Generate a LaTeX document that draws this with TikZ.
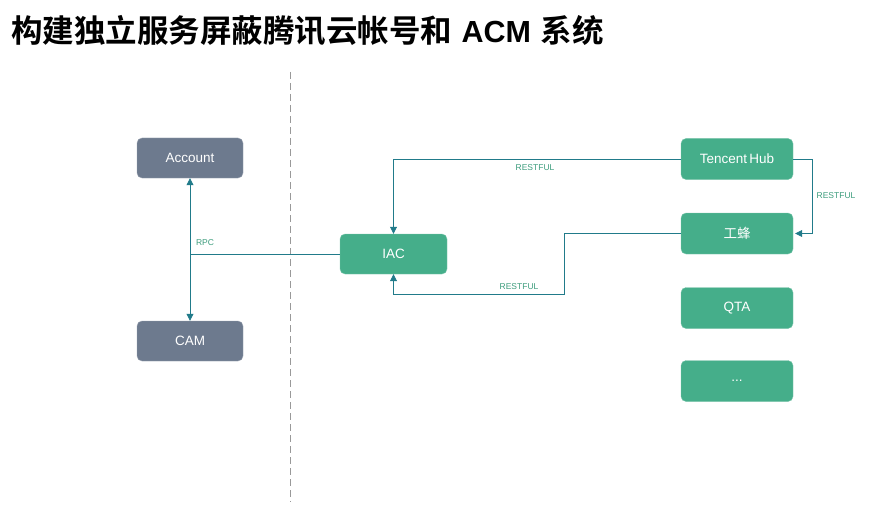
\documentclass[tikz,border=0pt]{standalone}
\usepackage{fontspec}
\setmainfont{Liberation Sans}
\newfontfamily\cjk{Noto Sans CJK SC}
\newfontfamily\cjkbold{Noto Sans CJK SC Bold}
\usetikzlibrary{arrows.meta}
\definecolor{boxgreen}{HTML}{45AE8A}
\definecolor{boxgray}{HTML}{6D7A8E}
\definecolor{linecol}{HTML}{217B8A}
\definecolor{lblcol}{HTML}{3C9C7C}
\tikzset{
  gbox/.style={draw=boxgreen!70!white, fill=boxgreen, rounded corners=5pt, minimum width=112pt, minimum height=41pt, text=white, font=\fontsize{13.5}{13.5}\selectfont, inner sep=0pt},
  graybox/.style={draw=boxgray!70!white, fill=boxgray, rounded corners=5pt, minimum width=106pt, minimum height=40pt, text=white, font=\fontsize{13.5}{13.5}\selectfont, inner sep=0pt},
  conn/.style={draw=linecol, line width=0.8pt, -{Triangle[length=7pt,width=7pt]}},
  lbl/.style={text=lblcol, font=\fontsize{8.5}{8.5}\selectfont, inner sep=0pt}
}
\begin{document}
\begin{tikzpicture}[x=1pt,y=-1pt]
\useasboundingbox (0,0) rectangle (877,513);
\node[anchor=west, font=\cjkbold\fontsize{31.5}{31.5}\selectfont, inner sep=0pt] (title) at (11,31) {构建独立服务屏蔽腾讯云帐号和\hspace{0.3em}{\bfseries\fontsize{30.5}{30.5}\selectfont\rmfamily ACM}\hspace{0.3em}系统};
\draw[gray!80, dashed, dash pattern=on 7pt off 4pt, line width=1pt] (290,72) -- (290,502);
\node[graybox] (account) at (190,158) {Account};
\node[graybox] (cam) at (190,341) {CAM};
\node[gbox, minimum width=107pt, minimum height=40pt] (iac) at (393.5,254) {IAC};
\node[gbox] (hub) at (737,159) {Tencent\,Hub};
\node[gbox] (gf) at (737,233.5) {\cjk 工蜂};
\node[gbox] (qta) at (737,308) {QTA};
\node[gbox] (more) at (737,381) {...};
\coordinate (rpcj) at (190,254);
\draw[conn, {Triangle[length=7pt,width=7pt]}-{Triangle[length=7pt,width=7pt]}] (account.south) -- (cam.north);
\draw[draw=linecol, line width=0.8pt] (iac.west) -- (rpcj);
\node[lbl] (rpc) at (205,243) {RPC};
\draw[conn] (hub.west) -| (iac.north);
\node[lbl] (l1) at (535,168) {RESTFUL};
\draw[conn] (hub.east) -- ++(19,0) |- ([xshift=2pt]gf.east);
\node[lbl] (l2) at (836,196) {RESTFUL};
\draw[conn] (gf.west) -- (564,233.5) -- (564,294) -| (iac.south);
\node[lbl] (l3) at (519,287) {RESTFUL};
\end{tikzpicture}
\end{document}
